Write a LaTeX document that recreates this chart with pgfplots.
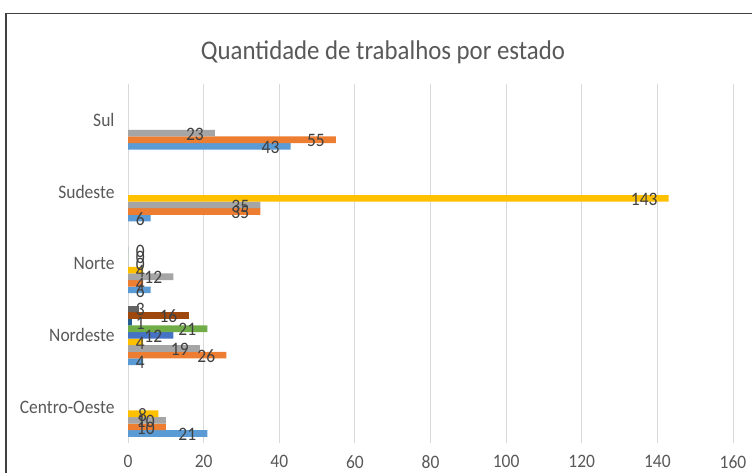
\documentclass[border=0pt]{standalone}
\usepackage{pgfplots}
\pgfplotsset{compat=1.18}
\usepackage{fontspec}
\setmainfont{Carlito}[FakeStretch=0.92]

\definecolor{c1}{HTML}{5B9BD5}
\definecolor{c2}{HTML}{ED7D31}
\definecolor{c3}{HTML}{A5A5A5}
\definecolor{c4}{HTML}{FFC000}
\definecolor{c5}{HTML}{4472C4}
\definecolor{c6}{HTML}{70AD47}
\definecolor{c7}{HTML}{255E91}
\definecolor{c8}{HTML}{9E480E}
\definecolor{c9}{HTML}{636363}
\definecolor{txtgray}{HTML}{595959}
\definecolor{lblgray}{HTML}{404040}
\definecolor{gridgray}{HTML}{D9D9D9}
\definecolor{framegray}{HTML}{404040}

\begin{document}
\begin{tikzpicture}
\fill[white] (0pt,0pt) rectangle (752pt,-473pt);
\node[anchor=base, font=\fontsize{27}{27}\selectfont, text=txtgray] at (383pt,-60pt) {Quantidade de trabalhos por estado};
\begin{axis}[
  at={(128pt,-443pt)}, anchor=south west,
  width=605pt, height=359pt, scale only axis,
  xbar,
  xmin=0, xmax=160, ymin=-0.5, ymax=4.5,
  xtick={0,20,...,160},
  ytick={0,1,2,3,4},
  yticklabels={Centro-Oeste,Nordeste,Norte,Sudeste,Sul},
  axis line style={draw=none},
  major tick length=0pt,
  xmajorgrids, ymajorgrids=false,
  grid style={draw=gridgray, line width=1pt},
  bar width=0.092,
  tick label style={font=\fontsize{19}{19}\selectfont, text=txtgray},
  /pgf/number format/assume math mode=true,
  xticklabel style={yshift=-9pt},
  yticklabel style={xshift=-10pt},
  nodes near coords,
  visualization depends on={rawx \as \rawv},
  nodes near coords style={anchor=east, inner sep=0pt, font=\fontsize{19}{19}\selectfont, text=lblgray,
    xshift={max(17-3.78125*\rawv,-11)}, yshift=-1pt},
]
\addplot[fill=c1, draw=none, bar shift=-0.368] coordinates {(21,0) (4,1) (6,2) (6,3) (43,4)};
\addplot[fill=c2, draw=none, bar shift=-0.276] coordinates {(10,0) (26,1) (4,2) (35,3) (55,4)};
\addplot[fill=c3, draw=none, bar shift=-0.184] coordinates {(10,0) (19,1) (12,2) (35,3) (23,4)};
\addplot[fill=c4, draw=none, bar shift=-0.092] coordinates {(8,0) (4,1) (4,2) (143,3)};
\addplot[fill=c5, draw=none, bar shift=0] coordinates {(12,1) (0,2)};
\addplot[fill=c6, draw=none, bar shift=0.092] coordinates {(21,1) (0,2)};
\addplot[fill=c7, draw=none, bar shift=0.184] coordinates {(1,1) (0,2)};
\addplot[fill=c8, draw=none, bar shift=0.276] coordinates {(16,1)};
\addplot[fill=c9, draw=none, bar shift=0.368] coordinates {(3,1)};
\end{axis}
\draw[line width=1.5pt, framegray] (6pt,-480pt) -- (6pt,-13.3pt) -- (760pt,-13.3pt);
\pgfresetboundingbox
\path[use as bounding box] (0pt,0pt) rectangle (752pt,-473pt);
\end{tikzpicture}
\end{document}
